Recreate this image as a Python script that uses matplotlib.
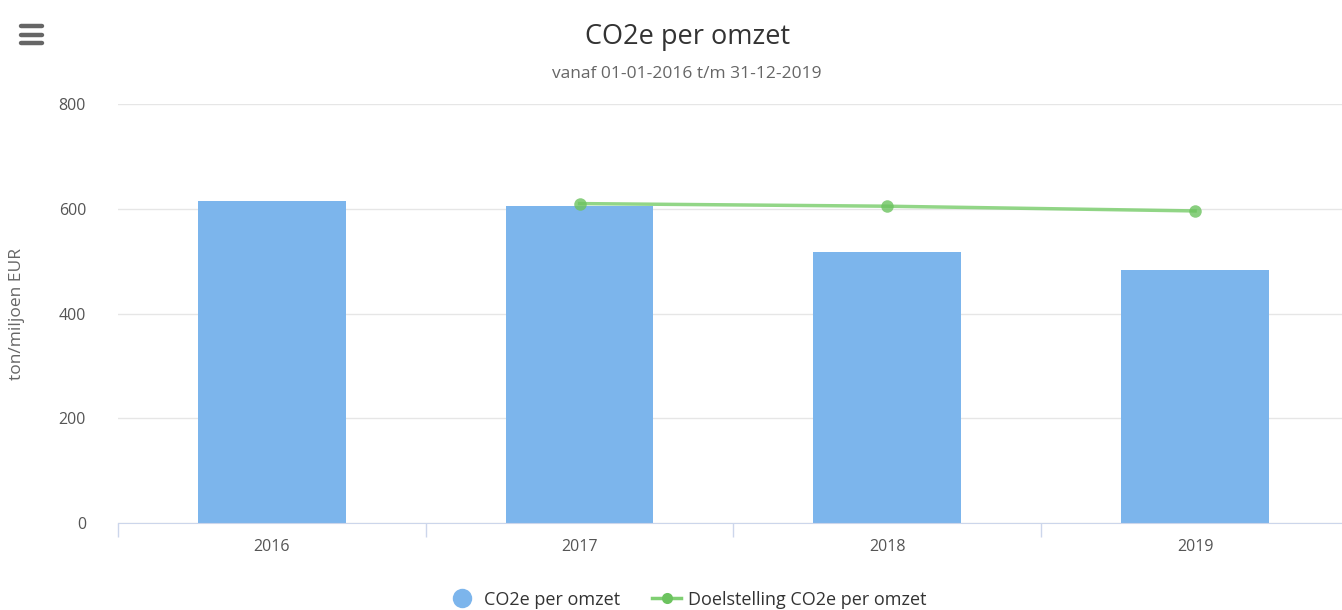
import matplotlib.pyplot as plt
from matplotlib.lines import Line2D
import numpy as np

years = ['2016', '2017', '2018', '2019']
co2_per_omzet = [614, 605, 517, 483]
target_years = ['2017', '2018', '2019']
target_values = [610, 605, 596]

plt.rcParams['font.family'] = ['Open Sans', 'DejaVu Sans']

fig = plt.figure(figsize=(13.42, 6.1), dpi=100)
ax = fig.add_axes([0.0879, 0.1421, 0.9173, 0.6874])

x = np.arange(len(years))
ax.bar(x, co2_per_omzet, width=0.48, color='#7cb5ec', zorder=2)

tx = [years.index(y) for y in target_years]
ax.plot(tx, target_values, color='#7fcf72', lw=2.5, alpha=0.85, zorder=3)
ax.plot(tx, target_values, 'o', color='#6cc35f', ms=9, alpha=0.8, mec='none', zorder=4)

ax.set_xlim(-0.5, len(years) - 0.5)
ax.set_ylim(0, 800)
ax.set_yticks([0, 200, 400, 600, 800])
ax.set_xticks(x)
ax.set_xticklabels(years)
ax.set_xticks(np.arange(-0.5, len(years), 1), minor=True)
ax.tick_params(axis='x', which='major', length=0, pad=11, labelsize=11.5, labelcolor='#555555')
ax.tick_params(axis='x', which='minor', length=10, color='#ccd6eb', width=1)
ax.tick_params(axis='y', length=0, pad=23, labelsize=11.5, labelcolor='#555555')
ax.grid(axis='y', color='#e6e6e6', lw=1, zorder=0)
for s in ['top', 'right', 'left']:
    ax.spines[s].set_visible(False)
ax.spines['bottom'].set_color('#ccd6eb')
ax.set_ylabel('ton/miljoen EUR', fontsize=12.5, color='#666666', labelpad=24)

fig.text(0.512, 0.94, 'CO2e per omzet', ha='center', va='center', fontsize=19.5, color='#333333')
fig.text(0.512, 0.878, 'vanaf 01-01-2016 t/m 31-12-2019', ha='center', va='center', fontsize=12.5, color='#666666')

# hamburger menu icon
for yy in [0.957, 0.943, 0.929]:
    fig.add_artist(Line2D([0.0157, 0.0315], [yy, yy], color='#666666', lw=3.2, solid_capstyle='round'))

handles = [
    Line2D([], [], marker='o', color='none', mfc='#7cb5ec', mec='none', ms=14),
    Line2D([], [], marker='o', color='#7fcf72', lw=2.5, mfc='#6cc35f', mec='none', ms=8),
]
fig.legend(handles, ['CO2e per omzet', 'Doelstelling CO2e per omzet'], loc='center',
           bbox_to_anchor=(0.512, 0.017), ncol=2, frameon=False, fontsize=13,
           handlelength=1.6, columnspacing=1.8, handletextpad=0.4, labelcolor='#333333')

fig.savefig('out.png', dpi=100)
